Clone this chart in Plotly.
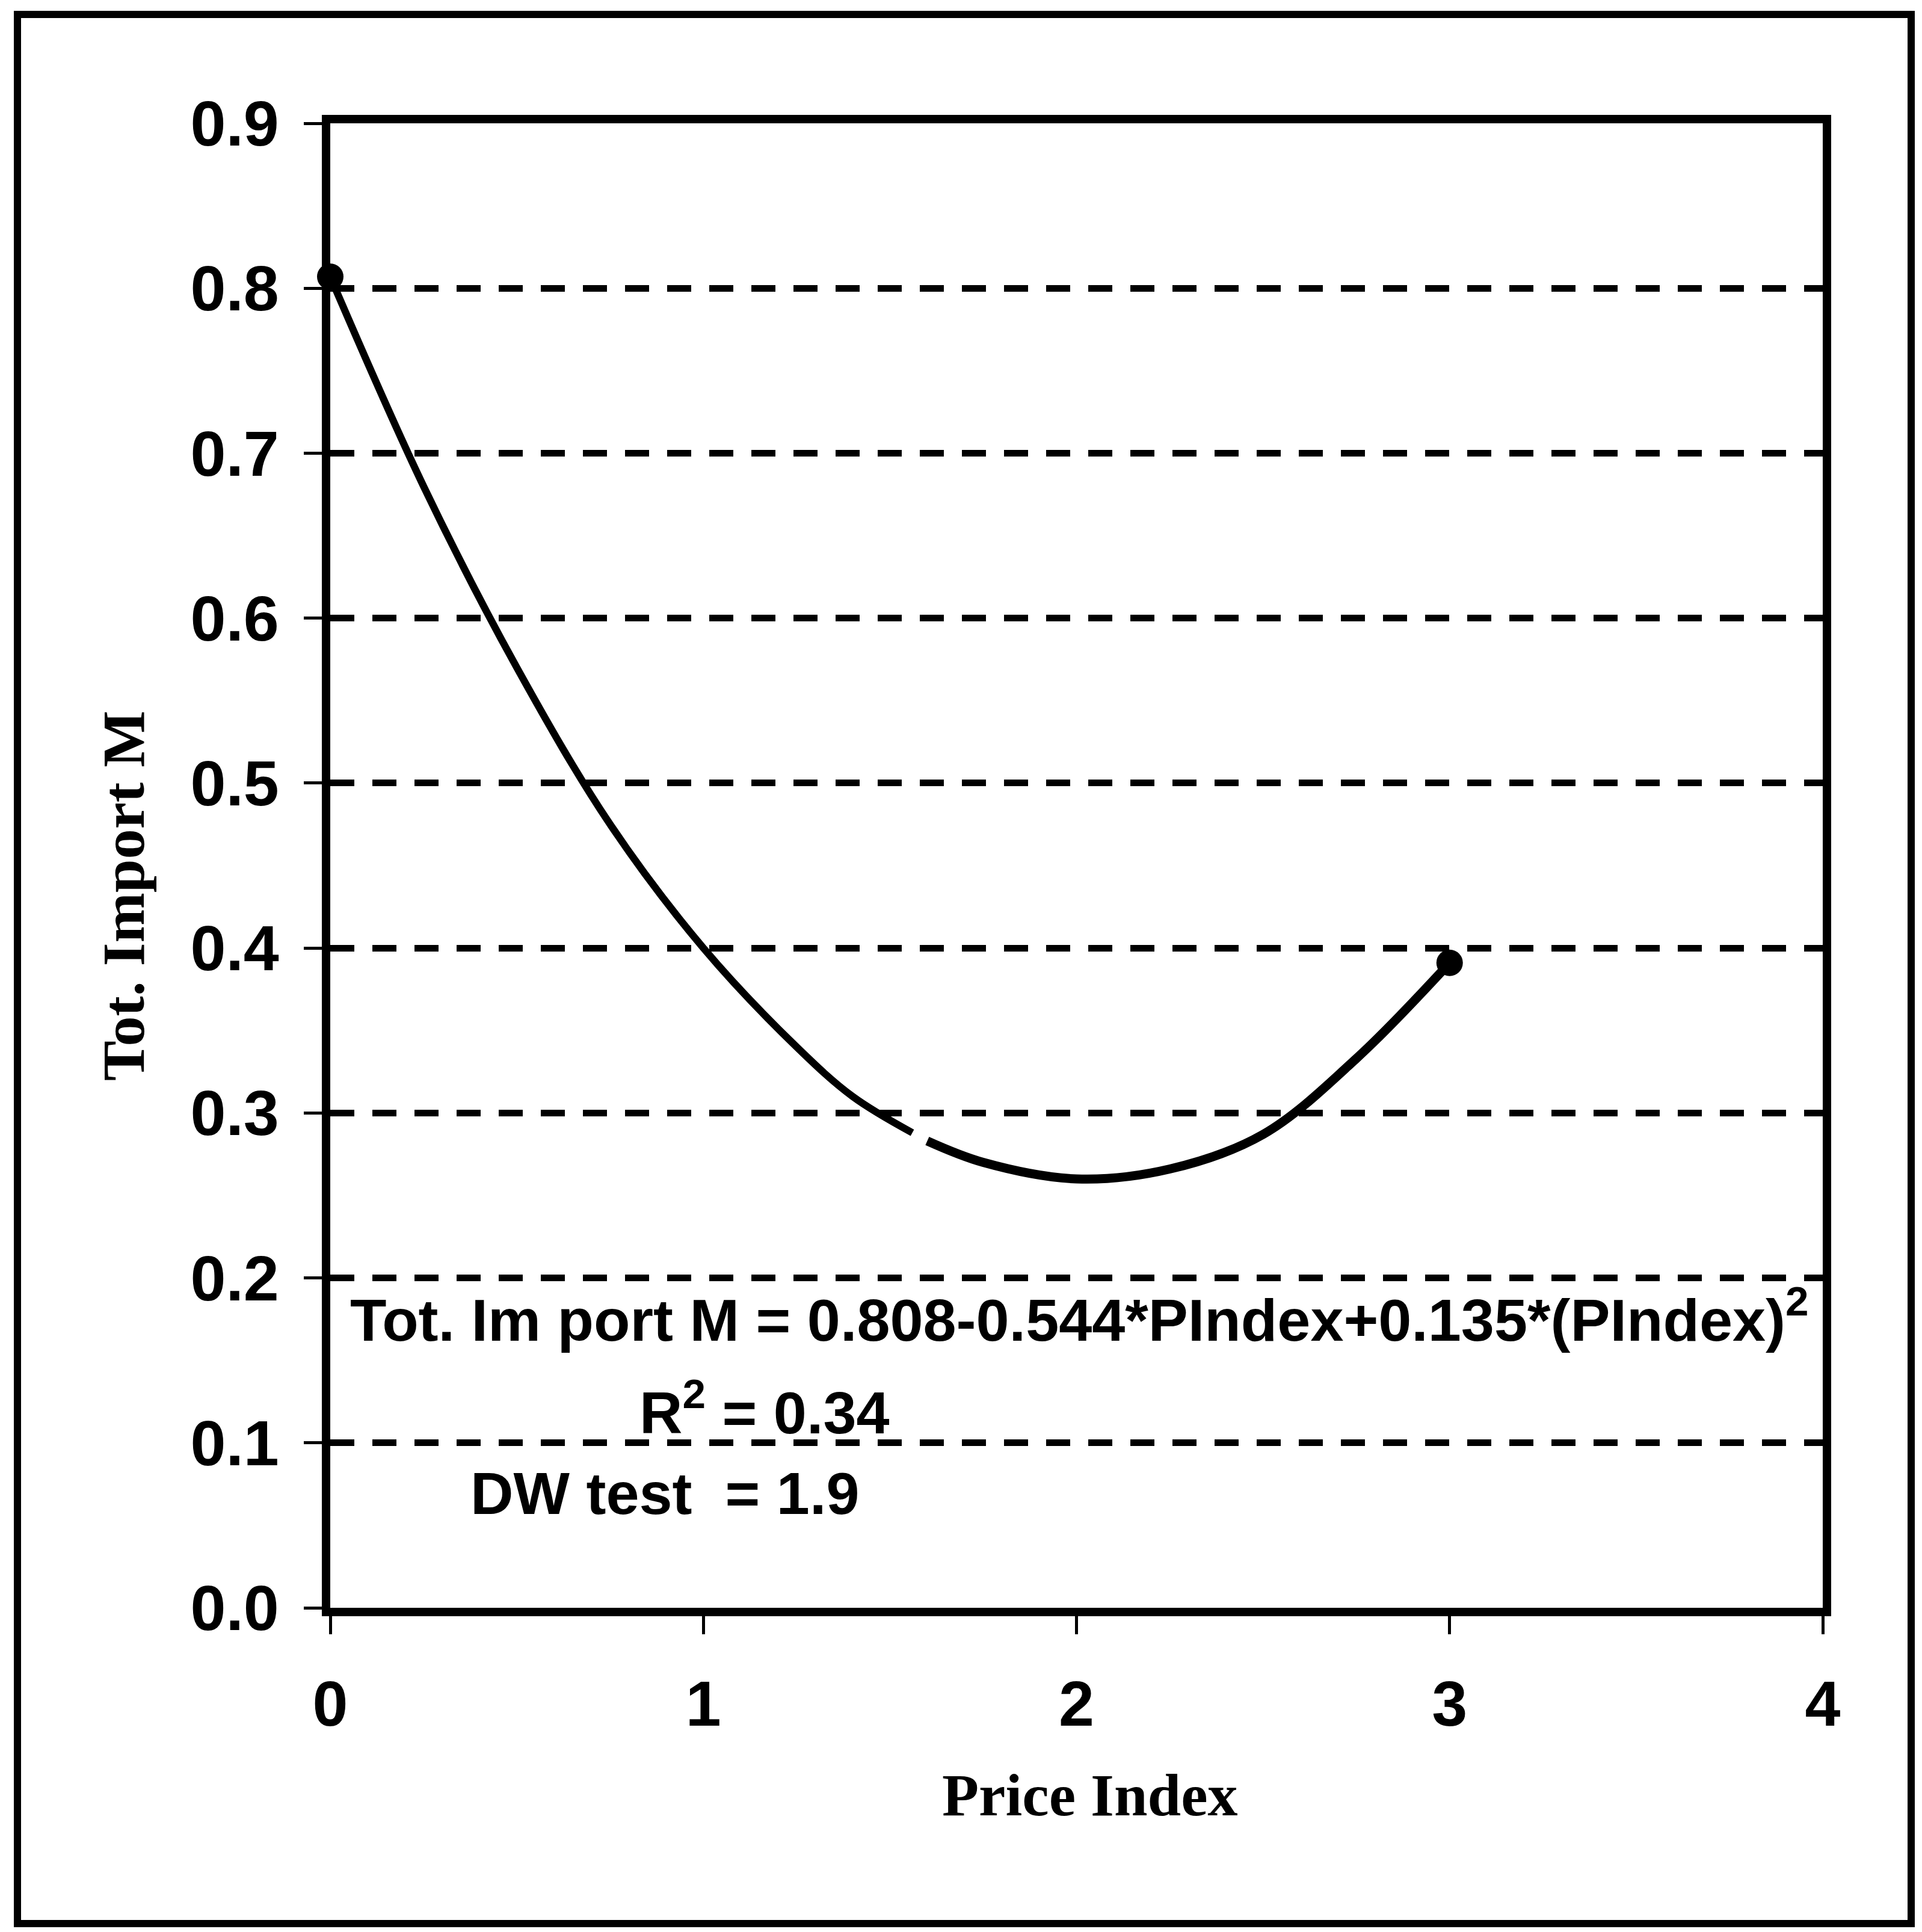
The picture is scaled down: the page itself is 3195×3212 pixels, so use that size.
import plotly.graph_objects as go

# ---- data ----
price_index_seg1 = [0.0, 0.25, 0.5, 0.75, 1.0, 1.25, 1.4, 1.56]
tot_import_seg1 = [0.807, 0.68, 0.57, 0.475, 0.40, 0.34, 0.31, 0.288]
price_index_seg2 = [1.60, 1.75, 2.0, 2.25, 2.5, 2.75, 3.0]
tot_import_seg2 = [0.283, 0.27, 0.26, 0.266, 0.287, 0.333, 0.391]
endpoint_x = [0.0, 3.0]
endpoint_y = [0.807, 0.391]

y_ticks = [0.0, 0.1, 0.2, 0.3, 0.4, 0.5, 0.6, 0.7, 0.8, 0.9]
x_ticks = [0, 1, 2, 3, 4]

eq_text = "Tot. Im port M = 0.808-0.544*PIndex+0.135*(PIndex)<sup>2</sup>"
r2_text = "R<sup>2</sup> = 0.34"
dw_text = "DW test&nbsp; = 1.9"
x_title = "Price Index"
y_title = "Tot. Import M"

# ---- layout geometry (pixels) ----
W, H = 3195, 3212
L, R, T, B = 549, 3030, 205, 2673
pw, ph = R - L, B - T


def px(x):
    return (x - L) / pw


def py(y):
    return (B - y) / ph


sans = "Liberation Sans, Arial, sans-serif"
serif = "Liberation Serif, Times New Roman, serif"

fig = go.Figure()
fig.add_trace(go.Scatter(x=price_index_seg1, y=tot_import_seg1, mode="lines",
                         line=dict(color="black", width=12, shape="spline"),
                         showlegend=False, hoverinfo="skip"))
fig.add_trace(go.Scatter(x=price_index_seg2, y=tot_import_seg2, mode="lines",
                         line=dict(color="black", width=15, shape="spline"),
                         showlegend=False, hoverinfo="skip"))
fig.add_trace(go.Scatter(x=endpoint_x, y=endpoint_y, mode="markers",
                         marker=dict(color="black", size=44),
                         showlegend=False, cliponaxis=False))

fig.update_layout(
    width=W, height=H,
    margin=dict(l=L, r=W - R, t=T, b=H - B, pad=0),
    paper_bgcolor="white", plot_bgcolor="white",
    showlegend=False,
    font=dict(family=sans, color="black"),
)

fig.update_xaxes(
    range=[0, 4], tickvals=x_ticks, ticktext=[str(v) for v in x_ticks],
    showgrid=False, zeroline=False,
    showline=True, linecolor="black", linewidth=14, mirror=True,
    ticks="outside", ticklen=30, tickwidth=5, tickcolor="black",
    tickfont=dict(family=sans, size=106, color="black", weight="bold"),
    ticklabelstandoff=25,
)
fig.update_yaxes(
    range=[0, 0.9], tickvals=y_ticks, ticktext=[f"{v:.1f}" for v in y_ticks],
    showgrid=True, gridcolor="black", gridwidth=11, griddash="40px,30px",
    zeroline=False,
    showline=True, linecolor="black", linewidth=14, mirror=True,
    ticks="outside", ticklen=30, tickwidth=5, tickcolor="black",
    tickfont=dict(family=sans, size=106, color="black", weight="bold"),
    ticklabelstandoff=20,
)

ann_font = dict(family=sans, size=99, color="black", weight="bold")
fig.add_annotation(x=px(580), y=py(2187), xref="paper", yref="paper", text=eq_text,
                   showarrow=False, xanchor="left", yanchor="middle", font=ann_font)
fig.add_annotation(x=px(1061), y=py(2341), xref="paper", yref="paper", text=r2_text,
                   showarrow=False, xanchor="left", yanchor="middle", font=ann_font)
fig.add_annotation(x=px(780), y=py(2482), xref="paper", yref="paper", text=dw_text,
                   showarrow=False, xanchor="left", yanchor="middle", font=ann_font)

title_font = dict(family=serif, size=100, color="black", weight="bold")
fig.add_annotation(x=px(1812), y=py(2984), xref="paper", yref="paper", text=x_title,
                   showarrow=False, xanchor="center", yanchor="middle", font=title_font)
fig.add_annotation(x=px(205), y=py(1489), xref="paper", yref="paper", text=y_title,
                   showarrow=False, xanchor="center", yanchor="middle", textangle=-90,
                   font=title_font)

# outer frame
fig.add_shape(type="rect", xref="paper", yref="paper",
              x0=px(29), x1=px(3177), y0=py(3198), y1=py(24),
              line=dict(color="black", width=12), fillcolor="rgba(0,0,0,0)")

fig.write_html("out.html")
